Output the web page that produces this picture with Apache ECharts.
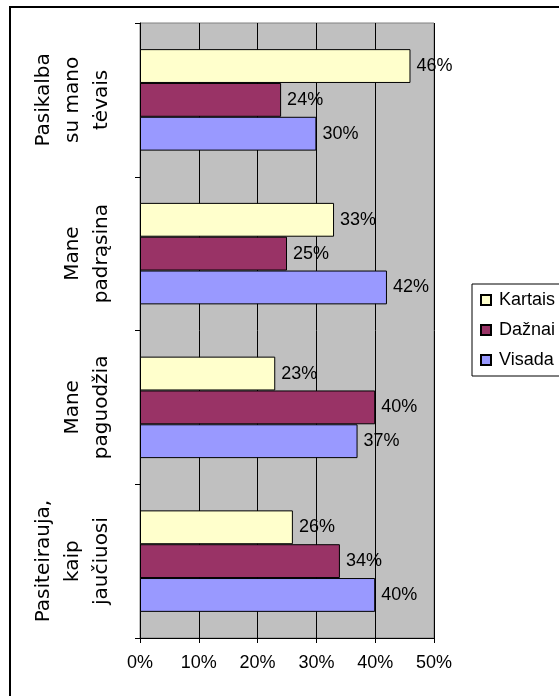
<!DOCTYPE html>
<html>
<head>
<meta charset="utf-8">
<script src="https://cdn.jsdelivr.net/npm/echarts@6/dist/echarts.min.js"></script>
<style>
html,body{margin:0;padding:0;background:#fff;}
#chart{width:559px;height:696px;}
</style>
</head>
<body>
<div id="chart"></div>
<script>
const categories = ["Pasikalba\nsu mano\ntėvais", "Mane\npadrąsina", "Mane\npaguodžia", "Pasiteirauja,\nkaip\njaučiuosi"];
const seriesNames = ["Kartais", "Dažnai", "Visada"];
const kartais = [46, 33, 23, 26];
const daznai = [24, 25, 40, 34];
const visada = [30, 42, 37, 40];
const xTicks = [0, 10, 20, 30, 40, 50];
const colors = ["#FFFFCC", "#993366", "#9999FF"];

const chart = echarts.init(document.getElementById('chart'), null, {renderer: 'canvas'});
const font = 'Liberation Sans, Arial, sans-serif';
function mk(name, data, color) {
  return {
    name: name, type: 'bar', data: data,
    barGap: 0, barCategoryGap: '34%',
    itemStyle: {color: color, borderColor: '#000', borderWidth: 1},
    label: {show: true, position: 'right', distance: 6, formatter: '{c}%',
      color: '#000', fontSize: 18, fontFamily: font},
    emphasis: {disabled: true}, animation: false
  };
}
chart.setOption({
  animation: false,
  backgroundColor: '#fff',
  graphic: [{type: 'rect', shape: {x: 10, y: 7, width: 620, height: 720},
    style: {fill: 'none', stroke: '#000', lineWidth: 2}, z: -10}],
  grid: {left: 140, right: 125, top: 23, bottom: 58, show: true,
    backgroundColor: '#C0C0C0', borderColor: '#808080', borderWidth: 1},
  legend: {
    orient: 'vertical', left: 472, top: 284,
    data: seriesNames, icon: 'rect', itemWidth: 10, itemHeight: 10, itemGap: 10,
    padding: [6, 8, 6, 8], borderColor: '#000', borderWidth: 1,
    textStyle: {fontSize: 18, fontFamily: font, color: '#000', lineHeight: 20, padding: [0, 0, 0, 3]}
  },
  xAxis: {
    type: 'value', min: xTicks[0], max: xTicks[xTicks.length - 1], interval: 10,
    axisLine: {show: true, lineStyle: {color: '#000'}},
    axisTick: {show: true, length: 5, lineStyle: {color: '#000'}},
    axisLabel: {formatter: '{value}%', fontSize: 18, fontFamily: font, color: '#000', margin: 16},
    splitLine: {show: true, lineStyle: {color: '#000', width: 1}}
  },
  yAxis: {
    type: 'category', data: categories, inverse: true,
    axisLine: {show: true, lineStyle: {color: '#000'}},
    axisTick: {show: true, length: 5, interval: 0, lineStyle: {color: '#000'}},
    axisLabel: {rotate: 90, interval: 0, hideOverlap: false, fontSize: 20, fontFamily: 'DejaVu Sans', color: '#000',
      lineHeight: 29, margin: 24, align: 'center'},
    splitLine: {show: false}
  },
  series: [mk(seriesNames[0], kartais, colors[0]), mk(seriesNames[1], daznai, colors[1]), mk(seriesNames[2], visada, colors[2])]
});
</script>
</body>
</html>
